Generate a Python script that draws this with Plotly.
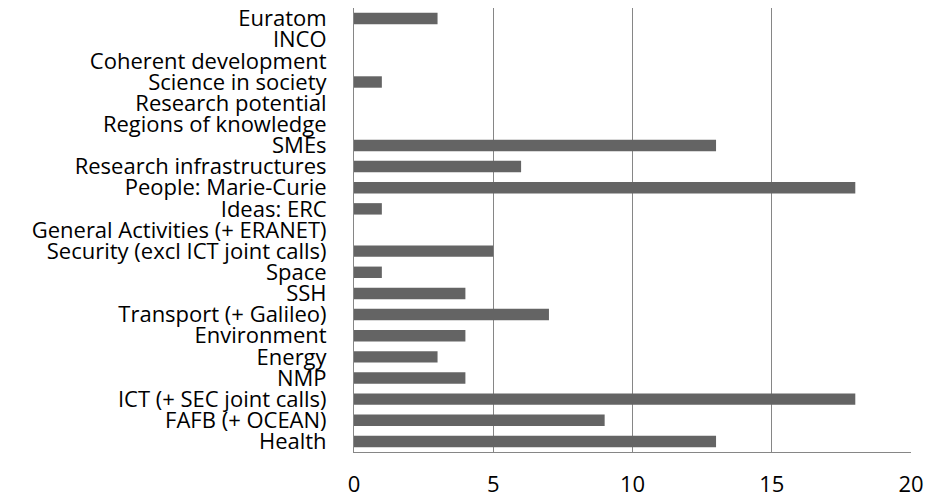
import plotly.graph_objects as go

categories = ["Health", "FAFB (+ OCEAN)", "ICT (+ SEC joint calls)", "NMP", "Energy",
              "Environment", "Transport (+ Galileo)", "SSH", "Space",
              "Security (excl ICT joint calls)", "General Activities (+ ERANET)",
              "Ideas: ERC", "People: Marie-Curie", "Research infrastructures", "SMEs",
              "Regions of knowledge", "Research potential", "Science in society",
              "Coherent development", "INCO", "Euratom"]
values = [13, 9, 18, 4, 3, 4, 7, 4, 1, 5, 0, 1, 18, 6, 13, 0, 0, 1, 0, 0, 3]
x_ticks = [0, 5, 10, 15, 20]

FONT = "Open Sans"
FS = 22

fig = go.Figure(go.Bar(
    x=values, y=categories, orientation="h",
    marker=dict(color="#646464", line=dict(width=0)),
))

fig.update_layout(
    width=925, height=500,
    margin=dict(l=354, r=14, t=8, b=48),
    paper_bgcolor="white", plot_bgcolor="white",
    bargap=0.46,
    showlegend=False,
    font=dict(family=FONT, size=FS, color="black"),
)
fig.update_xaxes(
    range=[0, 20], tickmode="array", tickvals=x_ticks, showgrid=True,
    gridcolor="#868686", gridwidth=1, automargin=False,
    showline=True, linecolor="#868686", linewidth=1, zeroline=False,
    ticks="", ticklabelstandoff=13, tickfont=dict(family=FONT, size=FS, color="black"),
)
fig.update_yaxes(
    categoryorder="array", categoryarray=categories,
    tickmode="array", tickvals=categories, automargin=False,
    showline=True, linecolor="#868686", linewidth=1, showgrid=False,
    ticks="", ticklabelstandoff=22, tickfont=dict(family=FONT, size=FS, color="black"),
)

fig.write_html("out.html")
